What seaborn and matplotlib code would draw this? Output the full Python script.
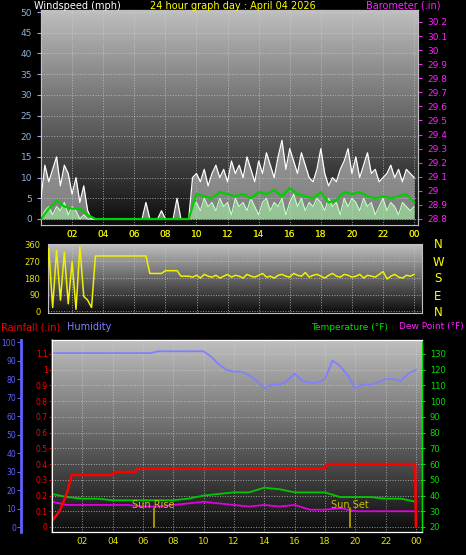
import numpy as np
import pandas as pd
import matplotlib
matplotlib.use("Agg")
import matplotlib.pyplot as plt
import seaborn as sns

sns.set_style("dark")
plt.rcParams['font.family'] = ['DejaVu Sans']

# ---- data ----
hours_q = np.arange(97) * 0.25      # 15 min
hours_h = np.arange(49) * 0.5       # 30 min
hours_1 = np.arange(25) * 1.0       # hourly

wind_gust = ([5,13,9,12,15,8,13,11,6,10,4,8,2,0] +
             [0,0,0,0,0,0,0,0,0,0,0,0,0,4,0,0,0,2,0,0,0,5,0,0,0] +
             [10,11,9,12,8,11,13,10,12,9,14,11,13,10,15,12,9,14,11,16,
              13,10,15,19,12,17,14,11,16,13,10,9,12,17,11,8,10,9,12,14,
              17,11,15,10,13,16,11,12,9,10,11,13,10,12,9,12,11,10])
wind_speed = ([0,2,3,1,3,2,4,1,3,2,0,1,0,0] + [0] * 25 +
              [3,4,2,5,3,4,2,5,3,4,1,5,3,4,2,5,3,1,4,5,
               2,4,3,5,1,4,6,3,5,2,4,3,5,4,2,5,3,4,1,5,
               3,5,4,2,5,3,4,1,3,5,2,4,3,1,4,3,2,3])
wind_avg = ([0,2.5,4.5,3,2.5,2.5,1,0] + [0] * 12 +
            [6,5.5,5,6.5,6,5.5,6,5,6.5,6,7,5.5,7.5,6,5.5,5,6.5,4,4.5,6.5,
             6,6.5,5.5,5,5.5,5,5.5,6,4])
barometer = [29.92,29.85,29.82,29.82,29.83,29.83,29.82,29.82,29.82,29.83,29.83,29.83,
             29.84,29.84,29.83,29.83,29.84,29.84,29.84,29.85,29.86,29.87,29.88,29.89,29.91]

wind_dir = ([130,30,340,20,330,60,320,40,270,10,350,80,60,20] + [300] * 14 +
            [205] * 4 + [220] * 4 + [190] * 3 +
            [185,195,180,200,190,185,195,180,190,200,185,195,190,180,200,190,185,195,205,185,
             190,180,195,200,190,185,205,195,190,210,185,195,200,190,180,195,205,190,185,200,
             195,185,190,200,180,195,190,185,200,215,175,190,200,185,180,195,190,200])

rain_t = [0,0.5,0.8,1.0,1.3,4.0,4.1,5.5,5.6,18.0,18.1,23.95,24]
rain_v = [0.04,0.1,0.17,0.22,0.33,0.33,0.35,0.35,0.37,0.37,0.40,0.40,0.0]
humidity = ([94] * 14 + [95] * 7 +
            [92,88,85,84,84,82,79,75,77,77,79,83,79,78,78,80,90,87,82,75,77,77,78,80,80,79,83,85])
temperature = [41,39,38,38,37,37,37,37,37,38,40,41,42,42,45,44,42,42,42,39,39,39,38,38,36]
dew_point = [36,34,34,34,34,34,33,33,34,35,36,35,34,33,34,33,34,31,31,32,30,30,30,30,30]

xticks = list(range(2, 25, 2))
xlabels = ["%02d" % (h % 24) for h in xticks]
sun_rise, sun_set = 6.7, 19.65

W, H = 466, 555
YEL = "#e8e800"


def rect(x0, y0, x1, y1):
    return [x0 / W, 1 - y1 / H, (x1 - x0) / W, (y1 - y0) / H]


def backdrop(ax):
    grad = np.linspace(0.75, 0.05, 256).reshape(-1, 1)
    ax.imshow(grad, cmap="gray", vmin=0, vmax=1, aspect="auto",
              extent=[0, 1, 0, 1], transform=ax.transAxes, zorder=0)
    ax.grid(True, color="#d0d0d0", ls=":", lw=0.7, alpha=0.7)
    for s in ax.spines.values():
        s.set_color("#c0c0c0")


fig = plt.figure(figsize=(W / 100, H / 100), dpi=100, facecolor="black")

# ---- panel 1: wind + barometer ----
ax1 = fig.add_axes(rect(41, 10, 418, 225))
backdrop(ax1)
df_w = pd.DataFrame({"t": hours_q, "gust": wind_gust, "speed": wind_speed})
ax1.fill_between(df_w.t, df_w.speed, df_w.gust, color="#c8c8c8", alpha=0.6, lw=0, zorder=2)
sns.lineplot(data=df_w, x="t", y="gust", ax=ax1, color="white", lw=0.9, zorder=3)
ax1.fill_between(df_w.t, 0, df_w.speed, color="#b8f0b8", alpha=0.8, lw=0, zorder=3)
sns.lineplot(data=df_w, x="t", y="speed", ax=ax1, color="#c8ffc8", lw=0.8, zorder=4)
sns.lineplot(x=hours_h, y=wind_avg, ax=ax1, color="#00d000", lw=1.6, zorder=5)
ax1.set_xlim(0, 24.25)
ax1.set_ylim(-1.45, 50.5)
ax1.set_yticks(range(0, 51, 5))
ax1.set_xticks(xticks, xlabels)
ax1.tick_params(axis="y", colors="#8fb0d8", labelsize=6.5, length=3, direction="out")
ax1.tick_params(axis="x", colors=YEL, labelsize=6.5, length=0)
ax1.set_xlabel("")
ax1.set_ylabel("")
ax1b = ax1.twinx()
sns.lineplot(x=hours_1, y=barometer, ax=ax1b, color="#ff20ff", lw=1.3)
ax1b.set_ylim(28.757, 30.285)
ax1b.set_yticks(np.round(np.arange(28.8, 30.21, 0.1), 1))
ax1b.set_yticklabels([("%g" % v) for v in np.round(np.arange(28.8, 30.21, 0.1), 1)])
ax1b.tick_params(axis="y", colors="#ff20ff", labelsize=6.5, length=3)
ax1b.spines["right"].set_color("#ff20ff")
ax1b.set_ylabel("")
ax1.set_zorder(2)
ax1.patch.set_visible(False)
ax1b.set_zorder(1)

fig.text(34 / W, 1 - 6 / H, "Windspeed (mph)", color="white", fontsize=7, va="center")
fig.text(0.5, 1 - 6 / H, "24 hour graph day : April 04 2026", color="yellow", fontsize=7,
         va="center", ha="center")
fig.text(440 / W, 1 - 6 / H, "Barometer (.in)", color="#ff20ff", fontsize=7, va="center", ha="right")

# ---- panel 2: wind direction ----
ax2 = fig.add_axes(rect(48, 244, 422, 313))
backdrop(ax2)
sns.lineplot(x=hours_q, y=wind_dir, ax=ax2, color="#f0f000", lw=1.1, zorder=3)
ax2.set_xlim(0.45, 24.5)
ax2.set_ylim(-10, 365)
ax2.set_yticks([0, 90, 180, 270, 360])
ax2.set_xticks(xticks, xlabels)
ax2.xaxis.tick_top()
ax2.tick_params(axis="y", colors=YEL, labelsize=6, length=2)
ax2.tick_params(axis="x", colors=YEL, labelsize=6.5, length=0)
for lab, y in zip("NWSEN", [245, 262, 279, 296, 313]):
    fig.text(438 / W, 1 - y / H, lab, color="yellow", fontsize=8.5, va="center", ha="center")

# ---- panel 3: rain, humidity, temperature ----
fig.text(1 / W, 1 - 327 / H, "Rainfall (.in)", color="red", fontsize=7, va="center")
fig.text(67 / W, 1 - 327 / H, "Humidity", color="#8080ff", fontsize=7, va="center")
fig.text(311 / W, 1 - 327 / H, "Temperature (\u00b0F)", color="#00e000", fontsize=6.5, va="center")
fig.text(464 / W, 1 - 327 / H, "Dew Point (\u00b0F)", color="#ff20ff", fontsize=6.5, va="center",
         ha="right")

ax3 = fig.add_axes(rect(52, 340, 422, 532))
backdrop(ax3)
ax3.set_xlim(0, 24.4)
ax3.set_ylim(-0.032, 1.189)
ax3.set_yticks(np.round(np.arange(0, 1.15, 0.1), 1))
ax3.set_yticklabels([("%g" % v) for v in np.round(np.arange(0, 1.15, 0.1), 1)])
ax3.tick_params(axis="y", colors="red", labelsize=5.5, length=2, pad=1)
ax3.spines["left"].set_color("red")
ax3.spines["left"].set_linewidth(1.5)
ax3.set_xticks(xticks, xlabels)
ax3.tick_params(axis="x", colors=YEL, labelsize=6.5, length=0)

axh = ax3.twinx()
axh.yaxis.tick_left()
axh.spines["left"].set_position(("outward", 22))
axh.spines["left"].set_color("#6060ff")
axh.spines["left"].set_linewidth(2)
axh.set_ylim(-2.7, 101.1)
axh.set_yticks(range(0, 101, 10))
axh.tick_params(axis="y", colors="#6060ff", labelsize=5.5, length=3, pad=1)
sns.lineplot(x=hours_h, y=humidity, ax=axh, color="#8080ff", lw=1.3)

axt = ax3.twinx()
axt.set_ylim(16.8, 138.9)
axt.set_yticks(range(20, 131, 10))
axt.tick_params(axis="y", colors="#00e000", labelsize=6, length=2)
axt.spines["right"].set_color("#00e000")
sns.lineplot(x=hours_1, y=temperature, ax=axt, color="#00c800", lw=1.3)
sns.lineplot(x=hours_1, y=dew_point, ax=axt, color="#e000e0", lw=1.3)

sns.lineplot(x=rain_t, y=rain_v, ax=axt, color="red", lw=1.8)
axt.lines[-1].set_ydata(20 + np.array(rain_v) * 100)

for tt, lab in [(sun_rise, "Sun Rise"), (sun_set, "Sun Set")]:
    axt.plot([tt, tt], [20, 32], color="#b0a000", lw=1.3)
    axt.text(tt, 34, lab, color="#c8c000", fontsize=7, ha="center", va="center")
for a in (axh, axt):
    a.set_ylabel("")
    a.set_xlabel("")

fig.savefig("out.png", dpi=100, facecolor="black")
